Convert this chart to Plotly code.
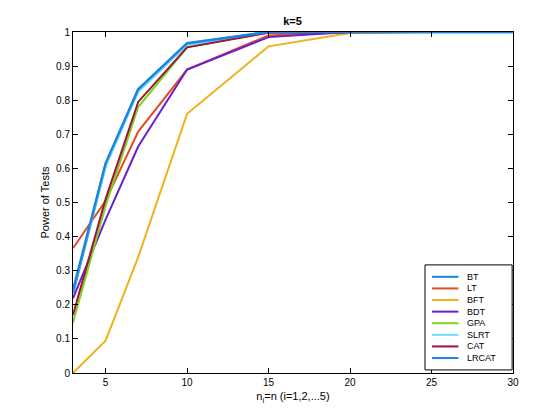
import plotly.graph_objs as go

# tamaños de muestra
n = [3, 5, 7, 10, 15, 20, 25, 30]

# potencia de cada prueba
bt = [0.235, 0.61, 0.83, 0.965, 1.0, 1.0, 1.0, 1.0]
lt = [0.366, 0.505, 0.708, 0.89, 0.99, 1.0, 1.0, 1.0]
bft = [0.0, 0.095, 0.34, 0.76, 0.958, 0.997, 1.0, 1.0]
bdt = [0.219, 0.45, 0.664, 0.89, 0.985, 1.0, 1.0, 1.0]
gpa = [0.148, 0.49, 0.78, 0.955, 1.0, 1.0, 1.0, 1.0]
slrt = [0.24, 0.605, 0.825, 0.962, 1.0, 1.0, 1.0, 1.0]
cat = [0.17, 0.51, 0.795, 0.955, 0.998, 1.0, 1.0, 1.0]
lrcat = [0.243, 0.615, 0.832, 0.967, 1.0, 1.0, 1.0, 1.0]

nombres = ['BT', 'LT', 'BFT', 'BDT', 'GPA', 'SLRT', 'CAT', 'LRCAT']
series = [bt, lt, bft, bdt, gpa, slrt, cat, lrcat]
colores = ['#1a84e0', '#e54a25', '#eeb21a', '#6a1fd0', '#7ad41c', '#6fdcfb', '#9b1535', '#1a84e0']
anchos = [2.6, 2, 2, 2, 2, 2, 2, 2.4]

fig = go.Figure()
for nom, s, c, w in zip(nombres, series, colores, anchos):
    fig.add_trace(go.Scatter(x=n, y=s, mode='lines', name=nom, showlegend=False,
                             line=dict(color=c, width=w)))

# leyenda a mano (la de plotly queda muy alta)
fig.add_shape(type='rect', xref='paper', yref='paper', x0=0.8, x1=0.998, y0=0.009, y1=0.317,
              line=dict(color='black', width=1), fillcolor='white', layer='above')
paso_y = 11.6 / 341
for i, (nom, c) in enumerate(zip(nombres, colores)):
    yy = 0.282 - i * paso_y
    fig.add_shape(type='line', xref='paper', yref='paper', x0=0.816, x1=0.876, y0=yy, y1=yy,
                  line=dict(color=c, width=2), layer='above')
    fig.add_annotation(xref='paper', yref='paper', x=0.89, y=yy, text=nom, showarrow=False,
                       xanchor='left', yanchor='middle', font=dict(size=9, color='black'))

eje = dict(showline=True, linecolor='black', linewidth=1, mirror='ticks',
           ticks='inside', ticklen=5, tickcolor='black', showgrid=False,
           zeroline=False, tickfont=dict(size=10, color='black'))

fig.update_layout(
    width=560, height=420,
    margin=dict(l=65, r=55, t=24, b=55),
    paper_bgcolor='white', plot_bgcolor='white',
    font=dict(family='Liberation Sans, Arial', size=10, color='black'),
    title=dict(text='<b>k=5</b>', x=0.508, xanchor='center', y=0.968, yanchor='middle',
               font=dict(size=11)),
    xaxis=dict(eje, range=[3, 30], tickvals=[5, 10, 15, 20, 25, 30],
               title=dict(text='n<sub>i</sub>=n (i=1,2,...5)', standoff=5, font=dict(size=11))),
    yaxis=dict(eje, range=[0, 1], dtick=0.1, tickformat='.1~f',
               title=dict(text='Power of Tests', standoff=4, font=dict(size=11))),
    showlegend=False,
)

fig.write_html("out.html")
